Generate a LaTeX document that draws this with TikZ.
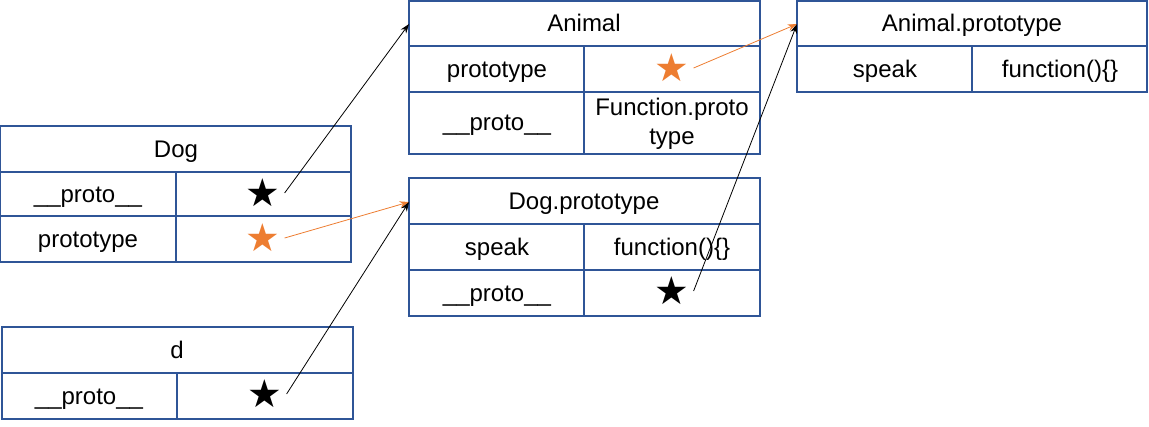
\documentclass[tikz,border=0pt]{standalone}
\usepackage{fontspec}
\setmainfont{Liberation Sans}
\newfontfamily\symfont{DejaVu Sans}
\usetikzlibrary{arrows.meta}
\definecolor{boxblue}{HTML}{2F5597}
\definecolor{starorange}{HTML}{ED7D31}
\tikzset{
	box/.style={draw=boxblue, line width=1pt},
	txt/.style={font=\fontsize{18}{21.4}\selectfont, inner sep=0pt, align=center, anchor=base},
	pstar/.style={font=\symfont\fontsize{29}{29}\selectfont, inner sep=3pt},
	link/.style={-{Stealth[length=7pt,width=5pt]}, line width=0.6pt},
}
\begin{document}
\begin{tikzpicture}[x=0.75pt, y=-0.75pt]
	\useasboundingbox (0,0) rectangle (1149,426);

	% Dog
	\draw [box] (0,126) rectangle (351,262);
	\draw [box] (0,172) -- (351,172);
	\draw [box] (0,216) -- (351,216);
	\draw [box] (176,172) -- (176,262);
	\node [txt] (dogT) at (176,157.5) {Dog};
	\node [txt] (dogP) at (88,202) {\_\_proto\_\_};
	\node [txt] (dogQ) at (88,247.5) {prototype};
	\node [pstar] (dogPs) at (263,193) {★};
	\node [pstar, text=starorange] (dogQs) at (263,238) {★};

	% d
	\draw [box] (2,327) rectangle (353,419);
	\draw [box] (2,373) -- (353,373);
	\draw [box] (177,373) -- (177,419);
	\node [txt] (dT) at (177,358.5) {d};
	\node [txt] (dP) at (89,404) {\_\_proto\_\_};
	\node [pstar] (dPs) at (265,394) {★};

	% Animal
	\draw [box] (409,1) rectangle (760,154);
	\draw [box] (409,46) -- (760,46);
	\draw [box] (409,92) -- (760,92);
	\draw [box] (584,46) -- (584,154);
	\node [txt] (animalT) at (584,31.5) {Animal};
	\node [txt] (animalQ) at (497,77.5) {prototype};
	\node [pstar, text=starorange] (animalQs) at (672,68) {★};
	\node [txt] (animalP) at (497,130) {\_\_proto\_\_};
	\node [txt, anchor=center] (animalPv) at (672,124) {Function.proto\\type};
	\coordinate (animalIn) at (409,24);

	% Dog.prototype
	\draw [box] (409,178) rectangle (760,316);
	\draw [box] (409,224) -- (760,224);
	\draw [box] (409,270) -- (760,270);
	\draw [box] (584,224) -- (584,316);
	\node [txt] (dprotoT) at (584,209.5) {Dog.prototype};
	\node [txt] (dprotoS) at (497,255.5) {speak};
	\node [txt] (dprotoF) at (672,255.5) {function()\{\}};
	\node [txt] (dprotoP) at (497,301.5) {\_\_proto\_\_};
	\node [pstar] (dprotoPs) at (672,291) {★};
	\coordinate (dprotoIn) at (409,202);

	% Animal.prototype
	\draw [box] (797,1) rectangle (1147,92);
	\draw [box] (797,46) -- (1147,46);
	\draw [box] (972,46) -- (972,92);
	\node [txt] (aprotoT) at (972,31.5) {Animal.prototype};
	\node [txt] (aprotoS) at (885,77.5) {speak};
	\node [txt] (aprotoF) at (1060,77.5) {function()\{\}};
	\coordinate (aprotoIn) at (797,24);

	% links
	\draw [link] (dogPs.east) -- (animalIn);
	\draw [link, starorange] (dogQs.east) -- (dprotoIn);
	\draw [link] (dPs.east) -- (dprotoIn);
	\draw [link, starorange] (animalQs.east) -- (aprotoIn);
	\draw [link] (dprotoPs.east) -- (aprotoIn);
\end{tikzpicture}
\end{document}
